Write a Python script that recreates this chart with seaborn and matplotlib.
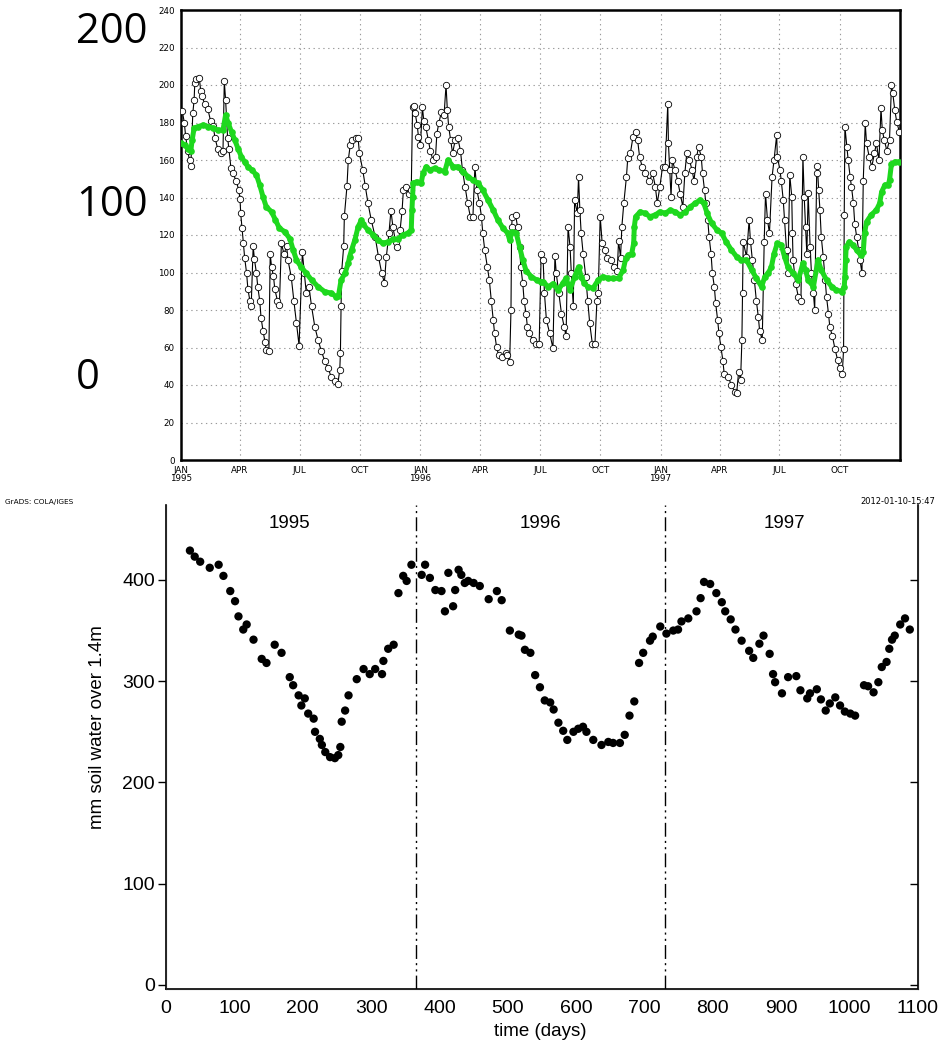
import matplotlib
matplotlib.use('Agg')
import matplotlib.pyplot as plt
import pandas as pd
import seaborn as sns

# ---------------- top panel: daily series (day index from 1 Jan 1995) ----------------
obs_days = [2, 5, 7, 10, 13, 15, 18, 20, 21, 23, 28, 30, 32, 36, 41, 45, 49, 52, 56, 61, 64, 66, 68, 71, 73, 76, 79, 84, 88,
            90, 91, 93, 95, 97, 100, 102, 105, 107, 110, 112, 115, 117, 120, 122, 125, 128, 130, 134, 136, 138, 141, 143,
            147, 150, 153, 157, 161, 163, 168, 172, 176, 180, 185, 188, 191, 195, 199, 204, 209, 214, 219, 224, 229, 234,
            239, 242, 243, 244, 245, 248, 249, 253, 255, 258, 260,
            266, 270, 272, 277, 281, 285, 290, 296, 301, 306, 310, 313, 317, 320, 323, 327, 330, 334, 337, 339, 343, 347,
            351, 353, 355, 357, 360, 362, 365, 368, 370, 373, 377, 380, 384, 388, 390, 393, 397, 401, 404, 406, 408, 411,
            414, 418, 422, 426, 429, 433, 437, 441, 445, 448, 451, 455, 458, 460, 463, 467, 470, 473, 476, 478, 481, 484,
            490, 495, 497, 501, 503, 504, 505, 510, 513, 516, 518, 521, 523, 526, 528, 531, 536, 541, 546,
            549, 552, 554, 557, 562, 567, 570, 572, 576, 580, 584, 587, 590, 593, 595, 598, 600, 604, 606, 608, 610, 613,
            617, 620, 623, 627, 631, 634, 636, 639, 642, 646, 649, 655, 660, 665, 667, 670, 672, 675, 679, 681, 685, 689,
            693, 696, 699, 703, 708, 714, 719, 723, 726, 730, 734, 738, 742, 743, 745, 747, 749, 753, 757, 761, 765, 768,
            771, 775, 779, 782, 786, 789, 793, 795, 798, 800, 803, 805, 808, 810, 813, 815, 818, 820, 823, 826, 828,
            834, 839, 844, 847, 850, 853, 855, 856, 857, 862, 866, 868, 871, 874, 877, 880, 882, 886, 889, 891, 894, 897,
            901, 904, 908, 909, 913, 915, 918, 920, 923, 925, 928, 931, 932, 933, 937, 941, 945, 948, 950, 952, 954, 956,
            959, 961, 964, 966, 969, 970, 972, 974, 976, 979, 982, 984, 987, 989, 993, 997, 1001, 1004, 1008, 1010, 1011,
            1012, 1015, 1017, 1020, 1022, 1025, 1027, 1030, 1033, 1035, 1038, 1040, 1043, 1045, 1049, 1053, 1057, 1060,
            1064, 1067, 1069, 1072, 1076, 1080, 1083, 1085, 1088, 1091, 1095]
obs_vals = [186, 180, 173, 165, 160, 157, 185, 192, 201, 203, 203.5, 197, 194, 190, 187, 181, 178, 171.5, 166, 163.5, 165,
            202, 192, 172, 166, 156, 153, 149, 144, 139, 131.5, 124, 116, 108, 99.6, 91, 85, 82, 114, 107, 99.6, 92.5,
            85, 76, 69, 63, 58.5, 58, 110, 103, 98, 91, 85, 82.7, 115.5, 110, 114, 106.7, 97.8, 85, 73, 61, 111, 99.6,
            89, 92.5, 82, 71, 64, 58, 53, 49, 44.4, 42, 40.5, 48, 57, 82, 101, 114, 130, 146, 160, 168, 170.7,
            172, 171.5, 163.5, 154.7, 146, 137, 128, 119, 108.4, 99.6, 94.6, 108.4, 121, 133, 124.4, 116.4, 113.8, 122.7,
            133, 144, 145.8, 142, 144, 188.4, 189, 185, 178.7, 172.4, 168, 188.4, 181, 177.8, 170.7, 165, 160, 161.8,
            174, 179.6, 185.8, 184, 200, 186.7, 177.8, 170.7, 163.6, 170.7, 171.5, 165, 154.7, 145.8, 137, 129.8, 129.8,
            156.4, 144, 137, 129.8, 121, 112, 103, 96, 85, 74.7, 67.6, 60.4, 56, 55, 57, 56, 52.4, 80, 124.4, 129.8,
            130.7, 124.4, 113.8, 103, 94.2, 85, 78, 71, 67.6, 64, 62, 62,
            110, 106.7, 89, 74.7, 67.6, 59.6, 109, 99.6, 89, 78, 71, 66, 124.4, 113.8, 99.6, 82, 138.7, 131.6, 151,
            133.3, 121, 110, 97.8, 85, 73, 62, 62, 85, 89, 129.8, 115.6, 112, 108, 106.7, 103, 101, 117, 108, 124.4,
            137, 151, 161, 163.6, 172.4, 175, 170.7, 161.8, 156.4, 152.9, 149, 152.9, 145.8, 137, 145.8, 156.4, 156.4,
            190, 168.9, 154.7, 140.4, 160, 154.7, 149, 142, 135, 152.9, 163.6, 160, 154.7, 149, 161.8, 167, 161.8,
            152.9, 144, 137, 128, 119, 110, 99.6, 92.4, 83.6, 74.7, 67.6, 60.4, 53, 46,
            44.4, 40, 36.4, 35.6, 47, 42.7, 64, 89, 116.4, 108.4, 128, 117, 106.7, 96, 85, 76.4, 69, 64, 116.4, 142,
            128, 121, 151, 160, 173.3, 161.8, 154.7, 149, 138.7, 128, 112, 99.6, 152, 140.4, 121, 106.7, 94, 87, 85,
            161.8, 140.4, 124.4, 110, 142.2, 113.8, 99.6, 89, 80, 153, 157, 144, 133.3, 119, 108.4, 96, 87, 78, 71, 66,
            59, 53.3, 49, 46, 59, 130.7, 177.8, 167, 160, 151, 145.8, 137, 126, 119, 112, 106.7, 99.6, 149, 179.6,
            168.9, 161.8, 156.4, 163.6, 168.9, 160, 187.6, 176, 170.7, 165, 170.7, 200, 195.6, 186.7, 180.4, 175]

mod_days = [0, 6, 11, 15, 17, 20, 26, 34, 41, 49, 56, 64, 68, 72, 77, 82, 87, 92, 97, 102, 108, 115, 120, 125, 130, 138,
            144, 150, 158, 166, 171, 176, 183, 191, 199, 209, 219, 229, 237, 240, 244, 250, 255, 257, 260, 265, 270, 275,
            277, 285, 293, 300, 308, 316, 323, 331, 338, 346, 351, 352, 353, 354, 359, 366, 369, 374, 379, 387, 394, 402,
            407, 415, 422, 430, 438, 445, 453, 460, 468, 476, 483, 491, 498, 501, 505, 511, 516, 521, 526, 534, 542, 549,
            552, 560, 567, 575, 582, 587, 593, 600, 606, 610, 615, 620, 628, 636, 643, 651, 659, 667, 674, 678, 682, 687,
            690, 691, 693, 700, 707, 715, 723, 730, 738, 746, 753, 761, 769, 776, 784, 791, 797, 802, 809, 817,
            824, 831, 839, 847, 854, 862, 870, 877, 885, 890, 895, 900, 904, 909, 915, 920, 925, 933, 941, 948, 952, 956,
            964, 971, 976, 984, 992, 999, 1007, 1011, 1012, 1013, 1014, 1019, 1024, 1030, 1036, 1040, 1042, 1045, 1052,
            1060, 1065, 1068, 1073, 1078, 1080, 1083, 1088, 1095]
mod_vals = [169, 168, 166, 165, 170.7, 177, 177.8, 178.7, 177.8, 177, 176, 176, 184, 179.6, 175, 170.7, 166, 161.8, 159,
            156.4, 154.7, 152, 146.7, 140.4, 135, 132.4, 128, 123.6, 121.8, 118, 112, 106.7, 103, 99.6, 96, 92.4, 89.8,
            89, 87, 87.5, 96, 99.6, 105, 108.4, 112, 117.3, 124.4, 128,
            126, 122.7, 120, 117.3, 115.6, 116.4, 117.7, 118, 120, 121, 122.7, 133.3, 140.4, 147.6, 148.4, 147.6, 153,
            156.4, 154.7, 155.6, 154.7, 153.8, 160, 156.4, 156.4, 153.8, 151, 149.3, 147.6, 144, 138.7, 133.3, 128,
            123.6, 121, 117.3, 121.8, 121, 113.8, 106.7, 101, 97.8, 96, 95,
            95, 92.4, 94, 90.7, 94.2, 96.9, 90.7, 97.8, 103, 97.8, 94.2, 92.4, 91.6, 96, 97.8, 96.9, 96.9, 96.9, 101.3,
            107.6, 109.3, 110, 115.6, 124.4, 129.8, 132.4, 131.6, 129.8, 130.7, 132.4, 131.6, 133.3, 132.4, 130.7, 132.4,
            135, 136.9, 138.7, 136.9, 131.6, 126.2, 122.7,
            121, 116.4, 112, 108.4, 106.7, 106.7, 101.3, 97, 92.4, 97.8, 99.6, 103, 110, 115.6, 114.7, 108.4, 103, 99.6,
            96, 104.9, 101.3, 96, 92.4, 106.7, 101.3, 96, 92.4, 90.7, 89.8, 92.4, 97.8, 106.7, 113.8, 116.4, 114.7, 112,
            109.3, 111, 121, 127, 130.7, 133.3, 136.9, 143, 146.7, 146.7, 149.3, 158, 159, 159]

month_days = [0, 90, 181, 273, 365, 456, 547, 639, 731, 821, 912, 1004]
month_labels = ['JAN\n1995', 'APR', 'JUL', 'OCT', 'JAN\n1996', 'APR', 'JUL', 'OCT', 'JAN\n1997', 'APR', 'JUL', 'OCT']

# ---------------- bottom panel: measured soil water ----------------
meas_days = [35, 42, 50, 64, 77, 84, 94, 101, 106, 113, 118, 128, 140, 147, 159, 169, 181, 186, 194, 198, 203, 208, 216,
             218, 225, 228, 233, 240, 247, 252, 255, 257, 262, 267, 279, 289, 298, 306, 316, 318, 325, 333, 340, 347, 352,
             359, 374, 379, 386, 394, 403, 408, 413, 420, 423, 428, 432, 437, 442, 450, 459, 472, 484, 491, 503, 516, 520,
             525, 533, 540, 547, 554, 562, 567, 574, 581, 587, 596, 603, 610, 615, 625, 637, 647, 654, 664, 671, 678, 685,
             692, 698, 708, 712, 723, 732, 742, 749, 754, 764, 776, 782, 787, 796, 805, 813, 818, 826, 833, 842, 853, 859,
             868, 874, 883, 888, 891, 901, 910, 922, 928, 938, 942, 952, 958, 965, 971, 979, 986, 993, 1001, 1008, 1021,
             1027, 1035, 1042, 1047, 1054, 1058, 1062, 1066, 1074, 1081, 1088]
meas_vals = [429, 423, 418, 412, 415, 404, 389, 379, 364, 351, 356, 341, 322, 318, 336, 328, 304, 296, 286, 276, 283, 268,
             263, 250, 243, 237, 230, 225, 224, 227, 235, 260, 271, 286, 302, 312, 307, 312, 307, 320, 332, 336, 387, 404,
             399, 415, 405, 415, 402, 390, 389, 369, 407, 374, 390, 410, 405, 397, 399, 397, 394, 381, 389, 380, 350, 346,
             345, 331, 328, 306, 294, 281, 279, 272, 259, 251, 242, 250, 253, 255, 250, 242, 237, 240, 239, 239, 247, 266,
             280, 318, 328, 340, 344, 354, 347, 350, 351, 359, 362, 369, 382, 398, 396, 387, 378, 369, 361, 351, 340, 330,
             323, 337, 345, 327, 307, 299, 288, 304, 305, 291, 283, 288, 292, 282, 271, 278, 284, 276, 270, 268, 266, 296,
             295, 289, 299, 314, 319, 332, 341, 345, 356, 362, 351]
year_labels = ['1995', '1996', '1997']
year_label_days = [181, 547, 905]
year_bounds = [365, 730]

# ---------------- drawing ----------------
sns.set_style('white')
plt.rcParams['font.family'] = ['DejaVu Sans']
plt.rcParams['text.color'] = 'black'
plt.rcParams['axes.labelcolor'] = 'black'
plt.rcParams['xtick.color'] = 'black'
plt.rcParams['ytick.color'] = 'black'

W, H = 939, 1046
fig = plt.figure(figsize=(W / 100, H / 100), dpi=100)
ax1 = fig.add_axes([181 / W, 1 - 460 / H, 719 / W, 450 / H])
ax2 = fig.add_axes([166 / W, 1 - 989 / H, 752 / W, 484 / H])

obs = pd.DataFrame({'day': obs_days, 'val': obs_vals})
mod = pd.DataFrame({'day': mod_days, 'val': mod_vals})

sns.lineplot(data=obs, x='day', y='val', ax=ax1, color='black', linewidth=0.8, marker='o', markersize=4.6,
             markerfacecolor='white', markeredgecolor='black', markeredgewidth=0.6, estimator=None, sort=False,
             zorder=3)
sns.lineplot(data=mod, x='day', y='val', ax=ax1, color='#1ed81e', linewidth=3.6, marker='o', markersize=4.8,
             markeredgewidth=0, estimator=None, sort=False, zorder=4)

ax1.set_xlim(0, 1096)
ax1.set_ylim(0, 240)
ax1.set_xticks(month_days)
ax1.set_xticklabels(month_labels, fontsize=6.3, linespacing=0.8, color='black')
ax1.set_yticks(range(0, 241, 20))
ax1.set_yticklabels([str(v) for v in range(0, 241, 20)], fontsize=6.3, color='black')
ax1.set_axisbelow(True)
ax1.grid(True, linestyle=(0, (1.2, 3.2)), color='#9a9a9a', linewidth=0.8)
ax1.tick_params(length=3, width=0.8, direction='out', pad=1.5, color='black')
ax1.set_xlabel('')
ax1.set_ylabel('')
for sp in ax1.spines.values():
    sp.set_visible(True)
    sp.set_linewidth(1.8)
    sp.set_color('black')

meas = pd.DataFrame({'day': meas_days, 'val': meas_vals})
sns.scatterplot(data=meas, x='day', y='val', ax=ax2, color='black', s=36, edgecolor='none', zorder=3)
for b in year_bounds:
    ax2.axvline(b, color='black', linewidth=1.0, linestyle=(0, (10, 3, 1.5, 3, 1.5, 3)), zorder=2)
for lab, d in zip(year_labels, year_label_days):
    ax2.text(d, 456, lab, ha='center', va='center', fontsize=13.5, family='Liberation Sans', color='black')

ax2.set_xlim(0, 1100)
ax2.set_ylim(-4, 474)
ax2.set_xticks(range(0, 1101, 100))
ax2.set_xticklabels([str(v) for v in range(0, 1101, 100)], fontsize=14, family='Liberation Sans', color='black')
ax2.set_yticks(range(0, 401, 100))
ax2.set_yticklabels([str(v) for v in range(0, 401, 100)], fontsize=14, family='Liberation Sans', color='black')
ax2.tick_params(axis='x', direction='in', length=6, width=1, pad=8)
ax2.tick_params(axis='y', direction='out', length=6, width=1, pad=2, left=True)
ax2.set_xlabel('')
ax2.set_ylabel('')
ax2.spines['top'].set_visible(False)
for s in ['left', 'right', 'bottom']:
    ax2.spines[s].set_linewidth(1.2)
    ax2.spines[s].set_color('black')

ax2r = ax2.twinx()
ax2r.set_ylim(ax2.get_ylim())
ax2r.set_yticks(range(0, 401, 100))
ax2r.tick_params(axis='y', direction='in', length=6, width=1, labelright=False, right=True)
ax2r.spines['top'].set_visible(False)
ax2r.grid(False)

fig.text(97 / W, 1 - 727 / H, 'mm soil water over 1.4m', rotation=90, ha='center', va='center',
         fontsize=13.5, family='Liberation Sans', color='black')
fig.text(540 / W, 1 - 1031 / H, 'time (days)', ha='center', va='center', fontsize=13.5,
         family='Liberation Sans', color='black')

# overlaid annotations
fig.text(112 / W, 1 - 32 / H, '200', ha='center', va='center', fontsize=30, family='Open Sans', color='black')
fig.text(112 / W, 1 - 205 / H, '100', ha='center', va='center', fontsize=30, family='Open Sans', color='black')
fig.text(88 / W, 1 - 378 / H, '0', ha='center', va='center', fontsize=30, family='Open Sans', color='black')
fig.text(5 / W, 1 - 502 / H, 'GrADS: COLA/IGES', ha='left', va='center', fontsize=5.3, color='black')
fig.text(935 / W, 1 - 501 / H, '2012-01-10-15:47', ha='right', va='center', fontsize=6, color='black')

fig.savefig('out.png', dpi=100, facecolor='white')
